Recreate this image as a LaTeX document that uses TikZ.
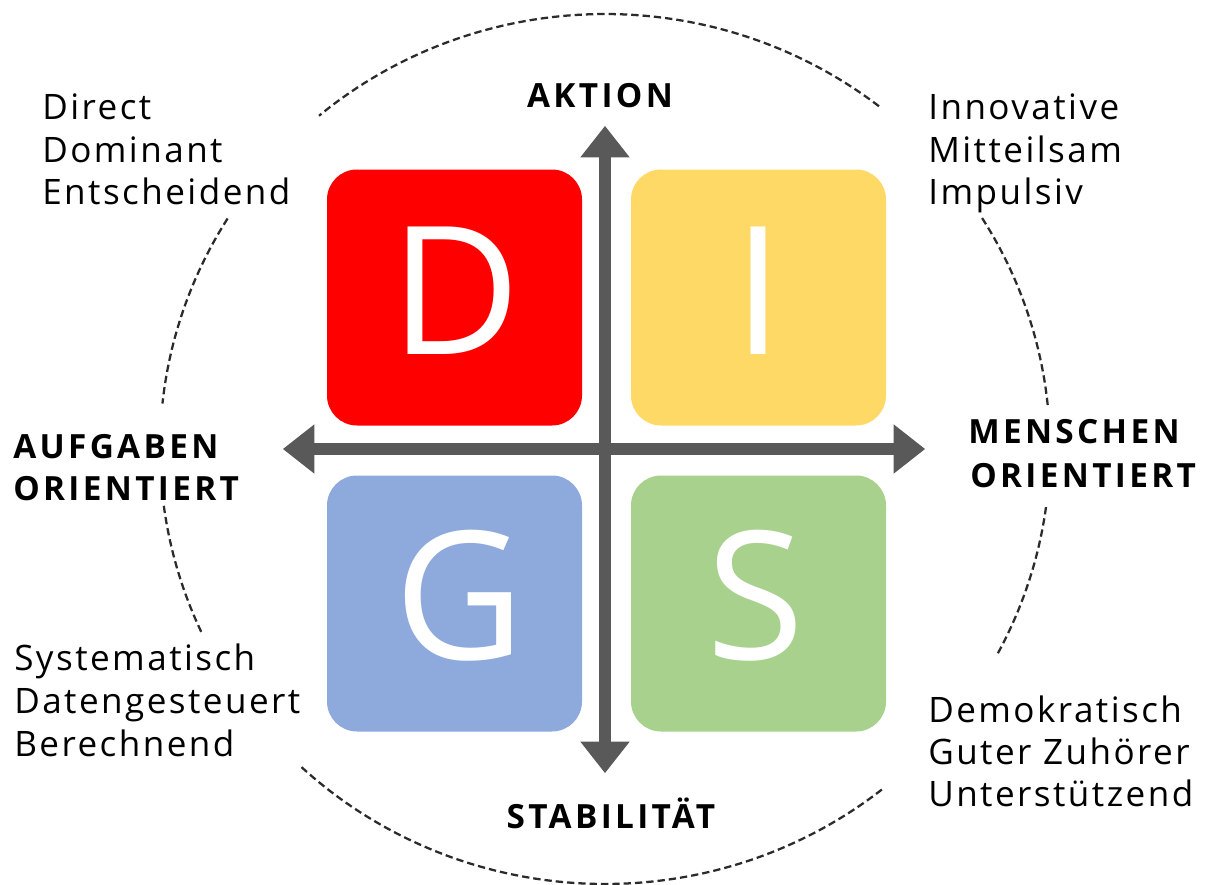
\documentclass[tikz,border=0pt]{standalone}
\usepackage{fontspec}
\setmainfont{Open Sans}
\newfontfamily\lblfont{Open Sans}[LetterSpace=10]
\newfontfamily\txtfont{Open Sans}[LetterSpace=7]
\usetikzlibrary{arrows.meta}
\definecolor{dred}{HTML}{FF0000}
\definecolor{iyel}{HTML}{FFD966}
\definecolor{gblue}{HTML}{8EA9DB}
\definecolor{sgreen}{HTML}{A9D18E}
\definecolor{axiscol}{HTML}{595959}
\definecolor{ringcol}{HTML}{2B2B2B}
\begin{document}
\begin{tikzpicture}[x=0.75pt,y=-0.75pt,
  quad/.style={rounded corners=22.5pt, minimum width=191.25pt, minimum height=192pt, inner sep=0pt, draw=none},
  letter/.style={inner sep=0pt, text=white, font=\fontsize{134}{134}\selectfont},
  axisarrow/.style={draw=axiscol, line width=9pt,
    {Triangle[length=23.5pt,width=37pt,line width=0pt]}-{Triangle[length=23.5pt,width=37pt,line width=0pt]}},
  ring/.style={draw=ringcol, line width=1.7pt, dash pattern=on 5.5pt off 3pt},
  txt/.style={anchor=base west, inner sep=0pt, font=\txtfont\fontsize{26.3}{32}\selectfont},
  lbl/.style={inner sep=0pt, font=\lblfont\bfseries\fontsize{25}{32}\selectfont}]
\useasboundingbox (0,0) rectangle (1210,885);
% dashed ring segments
\foreach \a/\b in {52/130, 148/174, 187.5/205, 227/309, 332/352.6, 5.8/32.3}
  \draw[ring] plot[domain=\a:\b, samples=50, smooth] ({605+445*cos(\x)},{449-435*sin(\x)});
% quadrants
\node[quad, fill=dred]   (D) at (454.5,297.5) {};
\node[quad, fill=iyel]   (I) at (758.5,297.5) {};
\node[quad, fill=gblue]  (G) at (454.5,603.5) {};
\node[quad, fill=sgreen] (S) at (758.5,603.5) {};
\node[letter] (Dl) at (456,291) {D};
\node[letter] (Il) at (758,291) {I};
\node[letter] (Gl) at (460,596) {G};
\node[letter] (Sl) at (756,596) {S};
% axes
\coordinate (vt) at (605,126);
\coordinate (vb) at (605,773);
\coordinate (hl) at (283,449);
\coordinate (hr) at (925,449);
\draw[axisarrow] (vb) -- (vt);
\draw[axisarrow] (hl) -- (hr);
% axis labels
\node[lbl, anchor=base] (akt) at (600,107) {AKTION};
\node[lbl, anchor=base] (stab) at (611,828) {STABILITÄT};
\node[lbl, anchor=base west] (auf1) at (13,458) {AUFGABEN};
\node[lbl, anchor=base west] (auf2) at (13,500) {ORIENTIERT};
\node[lbl, anchor=base west] (men1) at (968,443) {MENSCHEN};
\node[lbl, anchor=base west] (men2) at (970,487) {ORIENTIERT};
% trait texts
\node[txt] (d1) at (42,119) {Direct};
\node[txt] (d2) at (42,162) {Dominant};
\node[txt] (d3) at (42,204) {Entscheidend};
\node[txt] (i1) at (928,119) {Innovative};
\node[txt] (i2) at (928,162) {Mitteilsam};
\node[txt] (i3) at (928,204) {Impulsiv};
\node[txt] (g1) at (14,670) {Systematisch};
\node[txt] (g2) at (14,713) {Datengesteuert};
\node[txt] (g3) at (14,756) {Berechnend};
\node[txt] (s1) at (928,722) {Demokratisch};
\node[txt] (s2) at (928,764) {Guter Zuhörer};
\node[txt] (s3) at (928,806) {Unterstützend};
\end{tikzpicture}
\end{document}
